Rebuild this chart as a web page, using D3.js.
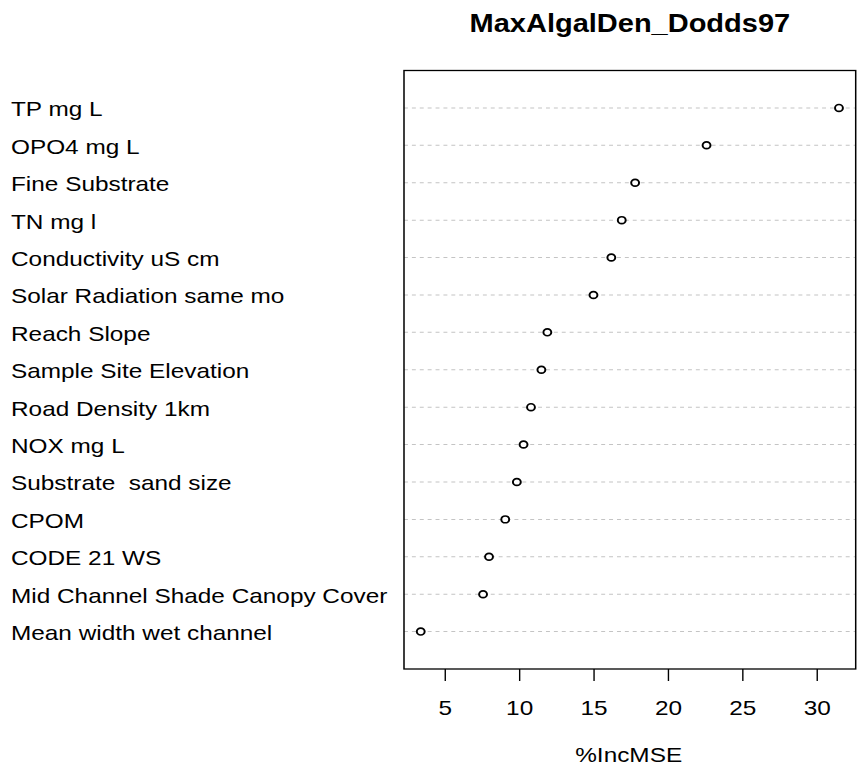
<!DOCTYPE html>
<html>
<head>
<meta charset="utf-8">
<script src="https://cdn.jsdelivr.net/npm/d3@7/dist/d3.min.js"></script>
<style>
  html, body { margin: 0; padding: 0; background: #fff; }
  svg { display: block; }
  text { font-family: "Liberation Sans", Arial, sans-serif; fill: #000; white-space: pre; }
</style>
</head>
<body>
<script>
// Data (top to bottom as displayed)
const categories = [
  "TP mg L",
  "OPO4 mg L",
  "Fine Substrate",
  "TN mg l",
  "Conductivity uS cm",
  "Solar Radiation same mo",
  "Reach Slope",
  "Sample Site Elevation",
  "Road Density 1km",
  "NOX mg L",
  "Substrate  sand size",
  "CPOM",
  "CODE 21 WS",
  "Mid Channel Shade Canopy Cover",
  "Mean width wet channel"
];
const incMSE = [31.5, 22.6, 17.8, 16.9, 16.2, 15.0, 11.9, 11.5, 10.8, 10.3, 9.85, 9.07, 7.98, 7.58, 3.39];
const xTicks = [5, 10, 15, 20, 25, 30];
const chartTitle = "MaxAlgalDen_Dodds97";
const xLabel = "%IncMSE";

(function () {
const W = 859, H = 768;
const SX = 1.16; // horizontal stretch of the original rendering
const pLeft = 404 / SX, pRight = 855.7 / SX, pTop = 70.5, pBottom = 669;

const svg = d3.select("body").append("svg").attr("width", W).attr("height", H);
const g = svg.append("g").attr("transform", `scale(${SX},1)`);

const lo = d3.min(incMSE), hi = d3.max(incMSE), pad = (hi - lo) * 0.04;
const x = d3.scaleLinear().domain([lo - pad, hi + pad]).range([pLeft, pRight]);
const n = categories.length;
const y = d3.scaleLinear().domain([0, n + 1]).range([pBottom, pTop]);
const pos = (i) => y(n - i);

// dashed guide lines
g.selectAll("line.guide").data(categories).join("line")
  .attr("class", "guide")
  .attr("x1", pLeft).attr("x2", pRight)
  .attr("y1", (d, i) => pos(i)).attr("y2", (d, i) => pos(i))
  .attr("stroke", "#c4c4c4").attr("stroke-width", 1)
  .attr("stroke-dasharray", "3.4,3.4");

// category labels
g.selectAll("text.cat").data(categories).join("text")
  .attr("class", "cat")
  .attr("x", 11 / SX).attr("y", (d, i) => pos(i) + 8.5)
  .attr("font-size", 21)
  .text(d => d);

// points
g.selectAll("circle").data(incMSE).join("circle")
  .attr("cx", d => x(d)).attr("cy", (d, i) => pos(i))
  .attr("r", 3.4)
  .attr("fill", "#fff").attr("stroke", "#000").attr("stroke-width", 1.7);

// box
g.append("rect")
  .attr("x", pLeft).attr("y", pTop)
  .attr("width", pRight - pLeft).attr("height", pBottom - pTop)
  .attr("fill", "none").attr("stroke", "#000").attr("stroke-width", 1.3);

// x axis
const axis = d3.axisBottom(x).tickValues(xTicks).tickSize(12).tickPadding(0).tickFormat(d3.format("d"));
const ax = g.append("g").attr("transform", `translate(0,${pBottom})`).call(axis);
ax.select(".domain").remove();
ax.selectAll(".tick line").attr("stroke", "#000").attr("stroke-width", 1.2);
ax.selectAll(".tick text")
  .attr("y", 46).attr("dy", null)
  .attr("font-size", 21)
  .attr("font-family", "Liberation Sans, Arial, sans-serif")
  .attr("fill", "#000");

// title
g.append("text")
  .attr("x", (pLeft + pRight) / 2).attr("y", 32)
  .attr("text-anchor", "middle")
  .attr("font-size", 25).attr("font-weight", "bold")
  .text(chartTitle);

// x label
g.append("text")
  .attr("x", (pLeft + pRight) / 2 - 1).attr("y", 762)
  .attr("text-anchor", "middle")
  .attr("font-size", 21)
  .text(xLabel);
})();
</script>
</body>
</html>
